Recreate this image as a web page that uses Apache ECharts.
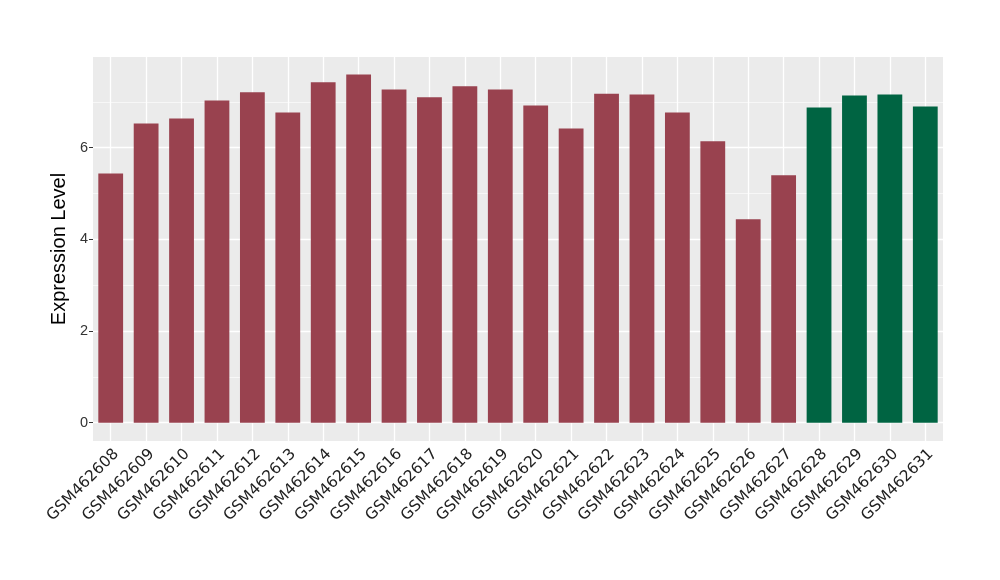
<!DOCTYPE html>
<html><head><meta charset="utf-8">
<script src="https://cdn.jsdelivr.net/npm/echarts@6/dist/echarts.min.js"></script>
<style>html,body{margin:0;padding:0;background:#fff}#c{width:1000px;height:580px}</style>
</head><body><div id="c"></div>
<script>
const categories = ['GSM462608','GSM462609','GSM462610','GSM462611','GSM462612','GSM462613','GSM462614','GSM462615','GSM462616','GSM462617','GSM462618','GSM462619','GSM462620','GSM462621','GSM462622','GSM462623','GSM462624','GSM462625','GSM462626','GSM462627','GSM462628','GSM462629','GSM462630','GSM462631'];
const values = [5.44,6.53,6.64,7.03,7.21,6.77,7.43,7.60,7.27,7.10,7.34,7.27,6.92,6.42,7.18,7.16,6.77,6.14,4.44,5.40,6.88,7.14,7.16,6.90];
const groups = ['a','a','a','a','a','a','a','a','a','a','a','a','a','a','a','a','a','a','a','a','b','b','b','b'];
const groupColors = {a:'#99424F', b:'#006442'};
const yTicks = [0,2,4,6];
const yMinor = [1,3,5,7];

const chart = echarts.init(document.getElementById('c'), null, {renderer:'canvas'});
const font = '"Liberation Sans", Arial, sans-serif';
chart.setOption({
  animation:false,
  grid:{left:93,right:57,top:57,bottom:139,show:true,backgroundColor:'#EBEBEB',borderWidth:0},
  xAxis:{type:'category',data:categories,
    axisLine:{show:false},
    axisTick:{show:true,alignWithLabel:true,length:4,lineStyle:{color:'#333',width:1}},
    axisLabel:{rotate:45,fontSize:15.5,color:'#222',fontFamily:'"DejaVu Sans", sans-serif',margin:5,interval:0,verticalAlign:'top'},
    splitLine:{show:false}},
  yAxis:{type:'value',min:-0.4,max:7.98,
    name:'Expression Level',nameLocation:'middle',nameGap:19,
    nameTextStyle:{fontSize:20,color:'#000',fontFamily:font},
    axisLine:{show:false},
    axisTick:{show:true,length:4,customValues:yTicks,lineStyle:{color:'#333'}},
    axisLabel:{fontSize:14.5,color:'#333',fontFamily:font,margin:5,customValues:yTicks},
    splitLine:{show:false}},
  series:[
    {type:'line',data:[],z:1,silent:true,symbol:'none',
      markLine:{z:1,silent:true,symbol:'none',label:{show:false},animation:false,
        data:[
          ...yMinor.map(v=>({yAxis:v,lineStyle:{color:'#fff',width:0.6,type:'solid'}})),
          ...yTicks.map(v=>({yAxis:v,lineStyle:{color:'#fff',width:1.3,type:'solid'}})),
          ...categories.map(c=>({xAxis:c,lineStyle:{color:'#fff',width:1.3,type:'solid'}}))
        ]}},
    {type:'bar',z:3,barWidth:'70%',
      data:values.map((v,i)=>({value:v,itemStyle:{color:groupColors[groups[i]]}}))}
  ]
});
</script></body></html>
